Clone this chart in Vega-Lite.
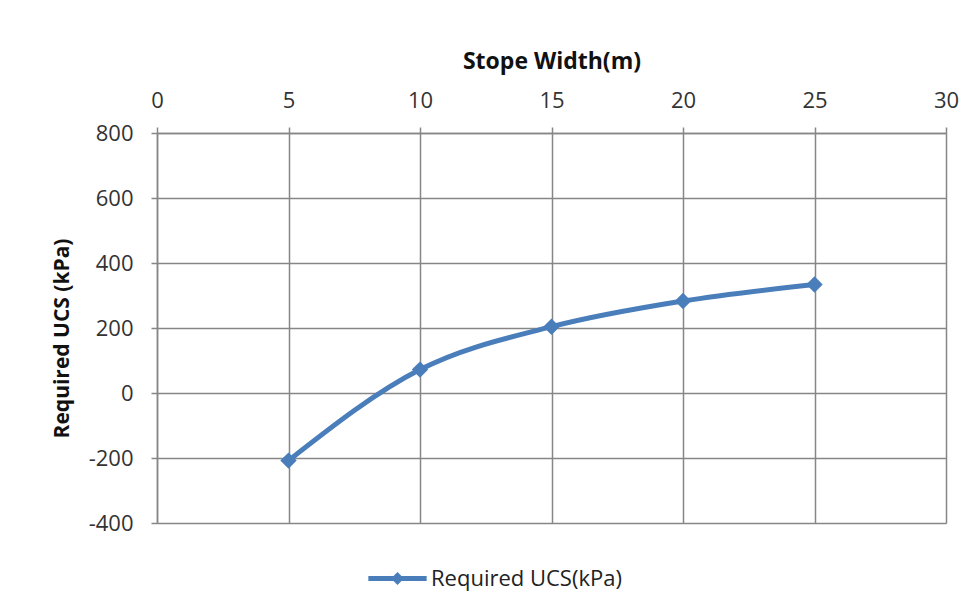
{
  "$schema": "https://vega.github.io/schema/vega-lite/v6.json",
  "width": 789,
  "height": 390,
  "autosize": {"type": "none"},
  "padding": {"left": 157, "top": 133, "right": 30, "bottom": 92},
  "background": "white",
  "config": {
    "font": "Open Sans",
    "view": {"stroke": null},
    "axis": {
      "gridColor": "#868686",
      "gridWidth": 1.5,
      "gridOpacity": 1,
      "domainColor": "#868686",
      "domainWidth": 1.5,
      "tickColor": "#868686",
      "tickWidth": 1.5,
      "tickSize": 6,
      "labelFont": "Open Sans",
      "labelFontSize": 22,
      "labelColor": "#333333",
      "titleFont": "Open Sans",
      "titleFontWeight": "bold",
      "titleColor": "#111111"
    }
  },
  "data": {
    "values": [
      {"width": 5, "ucs": -208, "series": "Required UCS(kPa)"},
      {"width": 10, "ucs": 72, "series": "Required UCS(kPa)"},
      {"width": 15, "ucs": 204, "series": "Required UCS(kPa)"},
      {"width": 20, "ucs": 283, "series": "Required UCS(kPa)"},
      {"width": 25, "ucs": 334, "series": "Required UCS(kPa)"}
    ]
  },
  "encoding": {
    "x": {
      "field": "width",
      "type": "quantitative",
      "scale": {"domain": [0, 30], "nice": false},
      "axis": {
        "orient": "top",
        "title": "Stope Width(m)",
        "titleFontSize": 23,
        "values": [0, 5, 10, 15, 20, 25, 30],
        "labelPadding": 15,
        "titlePadding": 16,
        "labelFlush": false
      }
    },
    "y": {
      "field": "ucs",
      "type": "quantitative",
      "scale": {"domain": [-400, 800], "nice": false},
      "axis": {
        "title": "Required UCS (kPa)",
        "titleFontSize": 21,
        "titleY": 205,
        "values": [-400, -200, 0, 200, 400, 600, 800],
        "labelExpr": "toString(datum.value)",
        "labelPadding": 18,
        "titlePadding": 16
      }
    },
    "color": {
      "field": "series",
      "type": "nominal",
      "scale": {"range": ["#4a7ebb"]},
      "legend": {
        "title": null,
        "orient": "none",
        "legendX": 211,
        "legendY": 416,
        "symbolType": "M-1,-0.09L1,-0.09L1,0.09L-1,0.09Z M0,-0.22L0.22,0L0,0.22L-0.22,0Z",
        "symbolSize": 3400,
        "symbolFillColor": "#4a7ebb",
        "symbolStrokeWidth": 0,
        "symbolOpacity": 1,
        "labelFontSize": 22,
        "labelFont": "Open Sans",
        "labelColor": "#222222",
        "labelLimit": 400,
        "labelOffset": 4
      }
    }
  },
  "layer": [
    {
      "mark": {"type": "line", "interpolate": "monotone", "strokeWidth": 5}
    },
    {
      "mark": {"type": "point", "shape": "diamond", "filled": true, "size": 270, "opacity": 1}
    }
  ]
}
